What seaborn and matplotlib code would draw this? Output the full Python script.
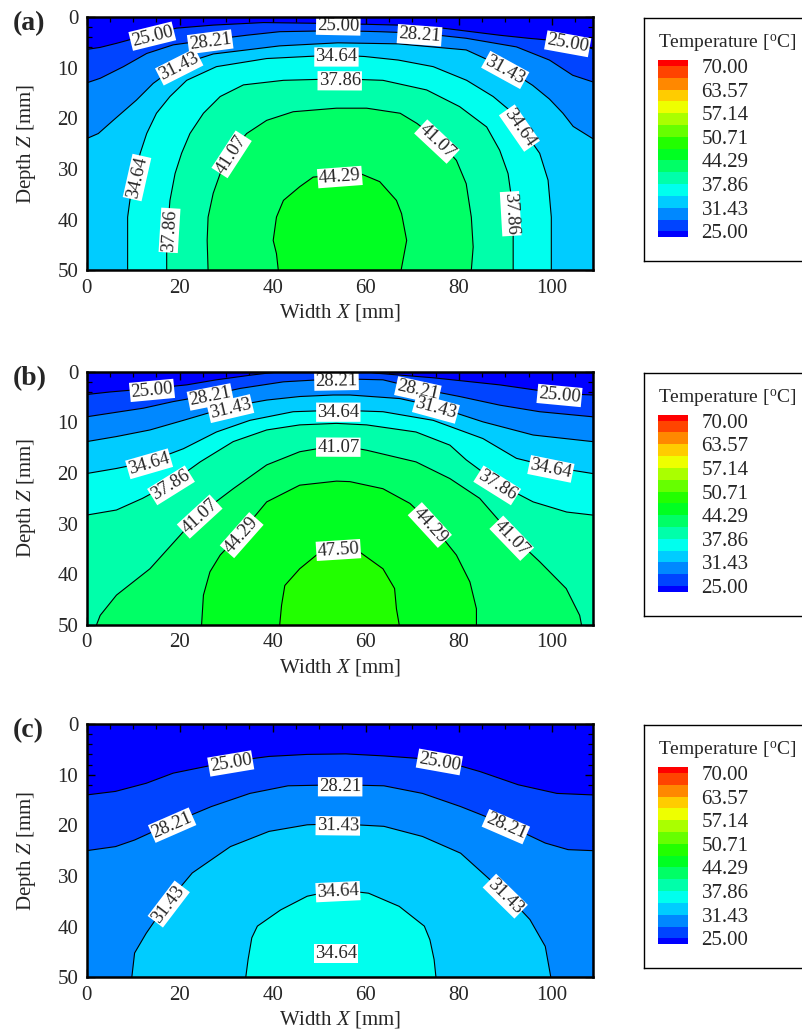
import numpy as np
import matplotlib
matplotlib.use("Agg")
import matplotlib as mpl
import matplotlib.pyplot as plt
import seaborn as sns
from matplotlib.colors import ListedColormap, BoundaryNorm
from matplotlib.ticker import MultipleLocator, NullLocator

# ---------------- data ----------------
LEVELS = [25.00, 28.21, 31.43, 34.64, 37.86, 41.07, 44.29, 47.50,
          50.71, 53.93, 57.14, 60.36, 63.57, 66.79, 70.00]
LEGEND_TICKS = [25.00, 31.43, 37.86, 44.29, 50.71, 57.14, 63.57, 70.00]
BAND_COLORS = ["#0000ff", "#0044ff", "#0088ff", "#00ccff", "#00ffee",
               "#00ffaa", "#00ff66", "#00ff22", "#22ff00", "#66ff00",
               "#aaff00", "#eeff00", "#ffcc00", "#ff8800", "#ff4400",
               "#ff0000"]
X_MAX = 108.8
Z_MAX = 50.0

# Panel (a) isotherms (x [mm], depth z [mm])
A_X_2500 = [0, 2.9, 6.4, 10, 14, 19.3, 27.2, 38, 54, 67, 76.6, 88.8, 95, 103.5, 106.5, 108.8]
A_Z_2500 = [6.4, 6.0, 5.2, 4.3, 3.4, 2.2, 1.6, 1.1, 1.3, 1.6, 2.2, 3.6, 4.2, 4.9, 5.6, 6.3]
A_X_2821 = [0, 2.9, 7.9, 12.9, 18.6, 26.5, 34.4, 41.5, 54, 63, 71.6, 81.6, 92.4, 99.5, 104.5, 108.8]
A_Z_2821 = [13.0, 12.1, 9.8, 7.2, 5.5, 4.5, 3.6, 2.9, 2.7, 2.9, 3.2, 4.2, 5.9, 8.5, 11.5, 12.8]
A_X_3143 = [0, 2.5, 5.7, 10.7, 14.3, 19.7, 27.2, 34.4, 41.5, 54, 67, 81.6, 90.2, 95.9, 99.5, 102.4, 104.6, 108.8]
A_Z_3143 = [24.0, 23.0, 20.4, 16.4, 13.1, 9.5, 7.3, 6.5, 5.7, 5.1, 5.3, 6.5, 10.1, 13.5, 16.2, 19.0, 21.6, 24.0]
A_X_3464 = [8.8, 8.8, 9.5, 10.4, 11.5, 12.9, 15.0, 17.9, 21.5, 27.9, 38.7, 53.7, 59.8, 67, 74.5,
            81.7, 87.4, 91.7, 93.4, 97.4, 99.2, 99.9, 99.9]
A_Z_3464 = [50, 39.5, 34.8, 31.6, 26.9, 23.0, 19.0, 15.7, 12.5, 9.8, 8.2, 7.5, 7.8, 8.5, 9.8,
            12.5, 15.7, 19.0, 21.7, 26.9, 32.2, 39.5, 50]
A_X_3786 = [17.2, 17.2, 17.9, 19.0, 20.4, 22.2, 25.1, 28.7, 33.7, 42.3, 54.4, 63.7, 73.1, 80.2,
            86.0, 88.8, 90.6, 91.3, 91.7, 91.7]
A_Z_3786 = [50, 44.1, 36.2, 30.9, 26.9, 23.0, 19.0, 15.7, 13.4, 12.5, 12.2, 12.5, 14.4, 17.7,
            21.7, 26.3, 30.9, 35.5, 40.0, 50]
A_X_4107 = [26.1, 25.9, 26.1, 27.2, 28.7, 30.8, 34.4, 38.7, 44.4, 53.7, 60.2, 67.4, 71.0, 75.6,
            79.5, 81.6, 82.7, 83.1, 82.7]
A_Z_4107 = [50, 44.1, 39.5, 34.8, 30.9, 26.9, 23.0, 20.4, 18.7, 18.0, 18.0, 19.0, 21.0, 24.3,
            28.3, 32.9, 39.5, 45.4, 50]
A_X_4429 = [41.2, 40.8, 40.1, 40.8, 42.3, 45.8, 48.7, 54.4, 58.8, 63.0, 66.6, 67.7, 68.8, 67.6]
A_Z_4429 = [50, 46.7, 44.1, 39.5, 36.2, 33.5, 31.6, 31.2, 30.9, 32.5, 36.2, 38.8, 44.1, 50]

A_LABEL_LEVEL = [0, 0, 0, 1, 1, 2, 2, 3, 3, 3, 4, 4, 4, 5, 5, 6]
A_LABEL_X = [14, 54.1, 103.5, 26.5, 71.6, 19.7, 90.2, 10.4, 53.7, 93.4, 17.5, 54.4, 91.7, 30.8, 75.6, 54.4]
A_LABEL_Z = [3.4, 1.4, 4.9, 4.5, 3.2, 9.5, 10.1, 31.6, 7.5, 21.7, 42.1, 12.4, 38.8, 26.9, 24.3, 31.2]

# Panel (b) isotherms
B_X_2500 = [0, 5, 14, 21.5, 27.9, 35.1, 38.7, 42, 60, 62.3, 74.5, 88.8, 101.7, 108.8]
B_Z_2500 = [4.5, 4.0, 3.3, 2.6, 1.6, 0.7, 0.3, 0, 0, 0.3, 1.2, 2.6, 4.3, 4.6]
B_X_2821 = [0, 5, 12.2, 18.6, 26.5, 33, 42.3, 53.7, 63.7, 71.3, 80.2, 88.8, 97.4, 108.8]
B_Z_2821 = [8.9, 8.2, 7.2, 5.9, 4.6, 3.3, 2.0, 1.4, 1.6, 3.3, 4.9, 6.6, 7.9, 8.9]
B_X_3143 = [0, 6.4, 13.6, 20.8, 30.8, 38.7, 45.8, 53, 56.6, 67.3, 75.2, 85.2, 96, 108.8]
B_Z_3143 = [13.8, 12.8, 11.5, 9.6, 6.9, 5.6, 4.9, 4.6, 4.6, 5.3, 6.9, 9.9, 12.5, 13.8]
B_X_3464 = [0, 6.4, 13.3, 20.8, 27.9, 35.1, 44.4, 54.1, 63.7, 74.5, 85.2, 92.4, 99.9, 108.8]
B_Z_3464 = [20.1, 19.1, 17.8, 15.2, 11.9, 9.6, 7.9, 7.6, 7.9, 9.6, 13.2, 17.1, 18.8, 20.1]
B_X_3786 = [0, 6.4, 12, 17.9, 24.4, 31.5, 38.7, 45.8, 53.7, 60.2, 70.8, 78.1, 81.6, 88.5, 96, 103.2, 108.8]
B_Z_3786 = [28.3, 27.3, 25.0, 22.1, 17.8, 13.8, 11.5, 10.5, 10.2, 10.5, 11.9, 14.5, 17.4, 22.1, 25.7, 27.7, 28.3]
B_X_4107 = [2.1, 2.9, 6.4, 13.6, 24.0, 31.5, 38.7, 45.8, 54.1, 60.2, 70.8, 78.1, 84.5, 91.7, 97.4,
            103.1, 106, 106.4]
B_Z_4107 = [50, 48.1, 44.1, 38.9, 28.3, 23.1, 18.4, 15.8, 14.5, 15.5, 17.8, 21.1, 25.0, 32.6, 37.5,
            42.8, 48.1, 50]
B_X_4429 = [24.7, 25.1, 26.5, 28.7, 33.0, 38.7, 45.8, 53.7, 56.6, 63.7, 69.5, 74.1, 79.5, 82.4, 83.8, 83.8]
B_Z_4429 = [50, 44.1, 39.5, 36.2, 32.0, 25.7, 22.4, 21.6, 21.7, 23.1, 26.0, 30.0, 36.2, 41.5, 46.8, 50]
B_X_4750 = [41.5, 41.9, 42.6, 45.8, 49.4, 54.1, 58.7, 63.7, 66.2, 66.6, 67.2]
B_Z_4750 = [50, 46.1, 42.2, 38.9, 36.2, 34.8, 35.6, 38.9, 42.8, 46.8, 50]

B_LABEL_LEVEL = [0, 0, 1, 1, 1, 2, 2, 3, 3, 3, 4, 4, 5, 5, 5, 6, 6, 7]
B_LABEL_X = [14, 101.7, 26.5, 53.7, 71.3, 30.8, 75.2, 13.3, 54.1, 99.9, 17.9, 88.5, 24.0, 54.1, 91.7, 33.0, 74.1, 54.1]
B_LABEL_Z = [3.3, 4.3, 4.6, 1.4, 3.3, 6.9, 6.9, 17.8, 7.6, 18.8, 22.1, 22.1, 28.3, 14.5, 32.6, 32.0, 30.0, 34.8]

# Panel (c) isotherms
C_X_2500 = [0, 6.2, 12.8, 18.6, 30.9, 39.2, 47.4, 55.7, 63.9, 75.9, 84.6, 92.8, 101.1, 108.8]
C_Z_2500 = [14.0, 13.3, 11.7, 9.7, 7.4, 6.4, 6.0, 5.9, 6.3, 7.1, 9.4, 12.0, 13.7, 14.0]
C_X_2821 = [0, 6.2, 10.3, 18.2, 26.8, 35.1, 43.3, 54.5, 63.9, 72.2, 80.4, 90.3, 98.6, 103.5, 108.8]
C_Z_2821 = [25.0, 24.2, 22.9, 19.6, 16.3, 13.7, 12.2, 12.0, 12.2, 13.7, 16.3, 19.9, 23.5, 24.8, 25.0]
C_X_3143 = [9.7, 10.3, 12.8, 17.3, 22.7, 30.9, 39.2, 47.4, 54.0, 63.9, 72.2, 80.4, 90.3, 95.3, 98.6, 99.8]
C_Z_3143 = [50, 45.2, 41.3, 35.3, 29.4, 24.2, 21.2, 19.9, 19.7, 20.2, 22.2, 25.5, 33.7, 38.6, 43.9, 50]
C_X_3464 = [34.2, 34.7, 35.5, 36.7, 41.7, 47.4, 54.0, 60.6, 67.2, 72.6, 73.8, 74.7, 75.1]
C_Z_3464 = [50, 46.5, 42.2, 39.9, 36.7, 34.0, 32.7, 33.4, 36.0, 39.9, 42.6, 46.5, 50]

C_LABEL_LEVEL = [0, 0, 1, 1, 1, 2, 2, 2, 3]
C_LABEL_X = [30.9, 75.9, 18.2, 54.5, 90.3, 17.3, 54.0, 90.3, 54.0]
C_LABEL_Z = [7.4, 7.1, 19.6, 12.0, 19.9, 35.3, 19.8, 33.7, 32.7]
C_FREE_LABEL_LEVEL = [3]
C_FREE_LABEL_X = [53.6]
C_FREE_LABEL_Z = [44.9]

PANELS = [
    ("(a)", [(0, A_X_2500, A_Z_2500), (1, A_X_2821, A_Z_2821), (2, A_X_3143, A_Z_3143),
             (3, A_X_3464, A_Z_3464), (4, A_X_3786, A_Z_3786), (5, A_X_4107, A_Z_4107),
             (6, A_X_4429, A_Z_4429)],
     (A_LABEL_LEVEL, A_LABEL_X, A_LABEL_Z), ([], [], [])),
    ("(b)", [(0, B_X_2500, B_Z_2500), (1, B_X_2821, B_Z_2821), (2, B_X_3143, B_Z_3143),
             (3, B_X_3464, B_Z_3464), (4, B_X_3786, B_Z_3786), (5, B_X_4107, B_Z_4107),
             (6, B_X_4429, B_Z_4429), (7, B_X_4750, B_Z_4750)],
     (B_LABEL_LEVEL, B_LABEL_X, B_LABEL_Z), ([], [], [])),
    ("(c)", [(0, C_X_2500, C_Z_2500), (1, C_X_2821, C_Z_2821), (2, C_X_3143, C_Z_3143),
             (3, C_X_3464, C_Z_3464)],
     (C_LABEL_LEVEL, C_LABEL_X, C_LABEL_Z), (C_FREE_LABEL_LEVEL, C_FREE_LABEL_X, C_FREE_LABEL_Z)),
]

# ---------------- style ----------------
sns.set_theme(style="ticks")
plt.rcParams["font.family"] = ["Liberation Serif", "DejaVu Serif"]
plt.rcParams["mathtext.fontset"] = "custom"
plt.rcParams["mathtext.rm"] = "Liberation Serif"
plt.rcParams["mathtext.it"] = "Liberation Serif:italic"
plt.rcParams["mathtext.bf"] = "Liberation Serif:bold"
plt.rcParams["axes.unicode_minus"] = False

W, H = 802, 1033
fig = plt.figure(figsize=(W / 100, H / 100), dpi=100)
fig.patch.set_facecolor("white")

AX_TOPS = [17.0, 371.7, 724.0]
AX_LEFT, AX_RIGHT, AX_H = 86.7, 592.7, 253.3

LABEL_BOX = dict(boxstyle="square,pad=0.06", fc="white", ec="none")
LABEL_SIZE = 13.5


def place_label(ax, xs, zs, lx, lz, text, half_len=20.0):
    P = np.column_stack([xs, zs]).astype(float)
    disp = ax.transData.transform(P)
    seg = np.diff(disp, axis=0)
    seglen = np.hypot(seg[:, 0], seg[:, 1])
    cum = np.concatenate([[0.0], np.cumsum(seglen)])
    q = ax.transData.transform((lx, lz))
    best = None
    for i in range(len(P) - 1):
        a, ab = disp[i], seg[i]
        t = np.clip(np.dot(q - a, ab) / max(np.dot(ab, ab), 1e-9), 0, 1)
        pt = a + t * ab
        d = np.hypot(*(q - pt))
        if best is None or d < best[0]:
            best = (d, pt, cum[i] + t * seglen[i])
    _, pt, s0 = best
    sa, sb = max(s0 - half_len, 0.0), min(s0 + half_len, cum[-1])
    pa = np.array([np.interp(sa, cum, disp[:, 0]), np.interp(sa, cum, disp[:, 1])])
    pb = np.array([np.interp(sb, cum, disp[:, 0]), np.interp(sb, cum, disp[:, 1])])
    v = pb - pa
    ang = np.degrees(np.arctan2(v[1], v[0]))
    if ang > 90:
        ang -= 180
    if ang <= -90:
        ang += 180
    xd, zd = ax.transData.inverted().transform(pt)
    ax.text(xd, zd, text, rotation=ang, rotation_mode="anchor", ha="center",
            va="center_baseline", fontsize=LABEL_SIZE, bbox=LABEL_BOX, zorder=6)


for (tag, isos, labels, free), top in zip(PANELS, AX_TOPS):
    ax = fig.add_axes([AX_LEFT / W, 1 - (top + AX_H) / H,
                       (AX_RIGHT - AX_LEFT) / W, AX_H / H])
    ax.set_xlim(0, X_MAX)
    ax.set_ylim(Z_MAX, 0)
    ax.set_facecolor(BAND_COLORS[0])
    ax.grid(False)

    # filled bands: paint the region below each isotherm, coldest first
    for k, xs, zs in isos:
        px = list(xs) + [xs[-1], xs[0]]
        pz = list(zs) + [Z_MAX, Z_MAX]
        ax.fill(px, pz, color=BAND_COLORS[k + 1], lw=0, zorder=1)
    # isotherm lines
    for k, xs, zs in isos:
        sns.lineplot(x=xs, y=zs, sort=False, estimator=None, color="black",
                     lw=0.8, ax=ax, zorder=3)
    # inline labels
    iso_by_level = {k: (xs, zs) for k, xs, zs in isos}
    for k, lx, lz in zip(*labels):
        xs, zs = iso_by_level[k]
        place_label(ax, xs, zs, lx, lz, f"{LEVELS[k]:.2f}")
    for k, lx, lz in zip(*free):
        ax.text(lx, lz, f"{LEVELS[k]:.2f}", ha="center", va="center_baseline",
                fontsize=LABEL_SIZE, bbox=LABEL_BOX, zorder=6)

    ax.xaxis.set_major_locator(MultipleLocator(20))
    ax.xaxis.set_minor_locator(MultipleLocator(5))
    ax.yaxis.set_major_locator(MultipleLocator(10))
    ax.yaxis.set_minor_locator(MultipleLocator(2))
    ax.tick_params(which="both", direction="in", top=True, right=True,
                   color="black", labelsize=15, pad=6)
    ax.tick_params(which="major", length=6, width=1.0)
    ax.tick_params(which="minor", length=3.5, width=0.9)
    for s in ax.spines.values():
        s.set_linewidth(1.8)
        s.set_color("black")
        s.set_zorder(8)
    ax.set_xlabel("Width $X$ [mm]", fontsize=15, labelpad=3)
    ax.set_ylabel("Depth $Z$ [mm]", fontsize=15, labelpad=14)

    fig.text(13 / W, 1 - (top + 7) / H, tag, fontsize=20, fontweight="bold",
             ha="left", va="center")

    # legend frame
    ftop = top + 1
    frame = fig.add_axes([644 / W, 1 - (ftop + 243) / H, 170 / W, 243 / H])
    frame.set_xticks([])
    frame.set_yticks([])
    frame.set_facecolor("white")
    for s in frame.spines.values():
        s.set_linewidth(1.0)
        s.set_color("black")
    frame.text(14 / 170, 1 - 25 / 243, "Temperature [$^{\\rm o}$C]",
               transform=frame.transAxes, fontsize=14, ha="left", va="center")

    cax = fig.add_axes([657.7 / W, 1 - (ftop + 219.3) / H, 30.6 / W, 177.3 / H])
    half = (LEVELS[1] - LEVELS[0]) / 2
    bounds = [LEVELS[0] - half] + LEVELS + [LEVELS[-1] + half]
    cmap = ListedColormap(BAND_COLORS)
    norm = BoundaryNorm(bounds, cmap.N)
    cb = mpl.colorbar.ColorbarBase(cax, cmap=cmap, norm=norm, boundaries=bounds,
                                   spacing="proportional", ticks=LEGEND_TICKS,
                                   orientation="vertical")
    cb.outline.set_visible(False)
    cb.ax.yaxis.set_minor_locator(NullLocator())
    cb.ax.set_yticklabels([f"{v:.2f}" for v in LEGEND_TICKS])
    cb.ax.tick_params(which="both", length=0, pad=9.5, labelsize=15)

fig.savefig("out.png", dpi=100, facecolor="white")
